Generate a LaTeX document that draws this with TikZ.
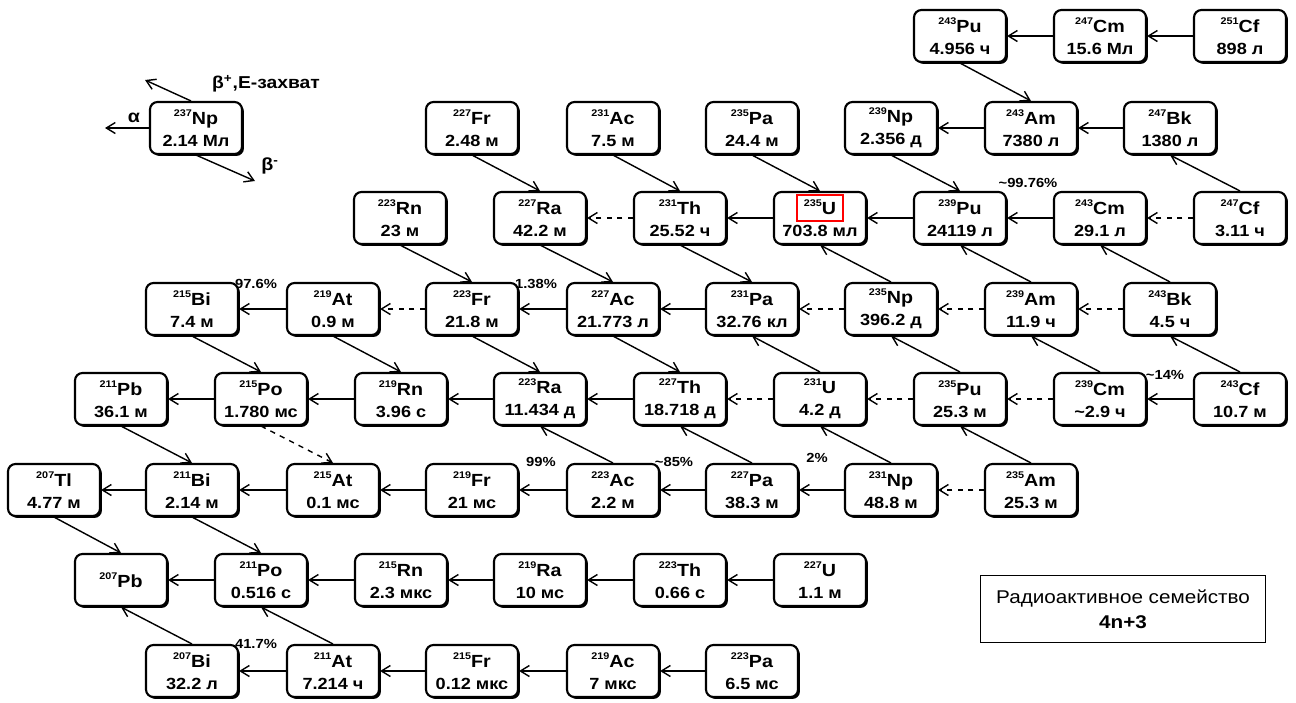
\documentclass[tikz,border=0pt]{standalone}
\usepackage{fontspec}
\setmainfont{Liberation Sans}[FakeStretch=1.12]
\usetikzlibrary{arrows.meta,shadows}
\newcommand{\iso}[3]{\raisebox{0.9ex}{\fontsize{5.5}{6}\selectfont #1}#2\\{\fontsize{9.2}{12.5}\selectfont #3}}

\begin{document}
\begin{tikzpicture}[x=0.2mm, y=-0.2mm, font=\bfseries\fontsize{10}{12.5}\selectfont,
		nuc/.style={draw, very thick, rounded corners=1.5mm, fill=white, minimum width=18.4mm, minimum height=10.4mm, align=center, inner sep=0pt, drop shadow={shadow xshift=1.1pt, shadow yshift=-1.1pt, opacity=1, fill=black}},
		dec/.style={thick, -{Straight Barb[length=1.8mm,width=2.2mm]}},
		pct/.style={font=\bfseries\fontsize{7.5}{8}\selectfont, inner sep=0pt}]
			\useasboundingbox (0,0) rectangle (1296,702);
			% row 0
			\node[nuc] (Pu243) at (960,36) {\iso{243}{Pu}{4.956 ч}};
			\node[nuc] (Cm247) at (1100,36) {\iso{247}{Cm}{15.6 Мл}};
			\node[nuc] (Cf251) at (1240,36) {\iso{251}{Cf}{898 л}};
			% row 1
			\node[nuc] (Fr227) at (472,128) {\iso{227}{Fr}{2.48 м}};
			\node[nuc] (Ac231) at (613,128) {\iso{231}{Ac}{7.5 м}};
			\node[nuc] (Pa235) at (752,128) {\iso{235}{Pa}{24.4 м}};
			\node[nuc] (Np239) at (891,128) {\iso{239}{Np}{2.356 д}};
			\node[nuc] (Am243) at (1031,128) {\iso{243}{Am}{7380 л}};
			\node[nuc] (Bk247) at (1170,128) {\iso{247}{Bk}{1380 л}};
			% row 2
			\node[nuc] (Rn223) at (400,218) {\iso{223}{Rn}{23 м}};
			\node[nuc] (Ra227) at (540,218) {\iso{227}{Ra}{42.2 м}};
			\node[nuc] (Th231) at (680,218) {\iso{231}{Th}{25.52 ч}};
			\node[nuc] (U235) at (820,218) {\iso{235}{U}{703.8 мл}};
			\node[nuc] (Pu239) at (960,218) {\iso{239}{Pu}{24119 л}};
			\node[nuc] (Cm243) at (1100,218) {\iso{243}{Cm}{29.1 л}};
			\node[nuc] (Cf247) at (1240,218) {\iso{247}{Cf}{3.11 ч}};
			% row 3
			\node[nuc] (Bi215) at (192,309) {\iso{215}{Bi}{7.4 м}};
			\node[nuc] (At219) at (333,309) {\iso{219}{At}{0.9 м}};
			\node[nuc] (Fr223) at (472,309) {\iso{223}{Fr}{21.8 м}};
			\node[nuc] (Ac227) at (613,309) {\iso{227}{Ac}{21.773 л}};
			\node[nuc] (Pa231) at (752,309) {\iso{231}{Pa}{32.76 кл}};
			\node[nuc] (Np235) at (891,309) {\iso{235}{Np}{396.2 д}};
			\node[nuc] (Am239) at (1031,309) {\iso{239}{Am}{11.9 ч}};
			\node[nuc] (Bk243) at (1170,309) {\iso{243}{Bk}{4.5 ч}};
			% row 4
			\node[nuc] (Pb211) at (121,399) {\iso{211}{Pb}{36.1 м}};
			\node[nuc] (Po215) at (261,399) {\iso{215}{Po}{1.780 мс}};
			\node[nuc] (Rn219) at (401,399) {\iso{219}{Rn}{3.96 с}};
			\node[nuc] (Ra223) at (540,399) {\iso{223}{Ra}{11.434 д}};
			\node[nuc] (Th227) at (680,399) {\iso{227}{Th}{18.718 д}};
			\node[nuc] (U231) at (820,399) {\iso{231}{U}{4.2 д}};
			\node[nuc] (Pu235) at (960,399) {\iso{235}{Pu}{25.3 м}};
			\node[nuc] (Cm239) at (1100,399) {\iso{239}{Cm}{\textasciitilde2.9 ч}};
			\node[nuc] (Cf243) at (1240,399) {\iso{243}{Cf}{10.7 м}};
			% row 5
			\node[nuc] (Tl207) at (54,490) {\iso{207}{Tl}{4.77 м}};
			\node[nuc] (Bi211) at (192,490) {\iso{211}{Bi}{2.14 м}};
			\node[nuc] (At215) at (333,490) {\iso{215}{At}{0.1 мс}};
			\node[nuc] (Fr219) at (472,490) {\iso{219}{Fr}{21 мс}};
			\node[nuc] (Ac223) at (613,490) {\iso{223}{Ac}{2.2 м}};
			\node[nuc] (Pa227) at (752,490) {\iso{227}{Pa}{38.3 м}};
			\node[nuc] (Np231) at (891,490) {\iso{231}{Np}{48.8 м}};
			\node[nuc] (Am235) at (1031,490) {\iso{235}{Am}{25.3 м}};
			% row 6
			\node[nuc] (Pb207) at (121,580) {\raisebox{0.9ex}{\fontsize{5.5}{6}\selectfont 207}Pb};
			\node[nuc] (Po211) at (261,580) {\iso{211}{Po}{0.516 с}};
			\node[nuc] (Rn215) at (401,580) {\iso{215}{Rn}{2.3 мкс}};
			\node[nuc] (Ra219) at (540,580) {\iso{219}{Ra}{10 мс}};
			\node[nuc] (Th223) at (680,580) {\iso{223}{Th}{0.66 с}};
			\node[nuc] (U227) at (820,580) {\iso{227}{U}{1.1 м}};
			% row 7
			\node[nuc] (Bi207) at (192,671) {\iso{207}{Bi}{32.2 л}};
			\node[nuc] (At211) at (333,671) {\iso{211}{At}{7.214 ч}};
			\node[nuc] (Fr215) at (472,671) {\iso{215}{Fr}{0.12 мкс}};
			\node[nuc] (Ac219) at (613,671) {\iso{219}{Ac}{7 мкс}};
			\node[nuc] (Pa223) at (752,671) {\iso{223}{Pa}{6.5 мс}};

			% alpha
			\draw[dec] (Cm247.west) -- (Pu243.east);
			\draw[dec] (Cf251.west) -- (Cm247.east);
			\draw[dec] (Am243.west) -- (Np239.east);
			\draw[dec] (Bk247.west) -- (Am243.east);
			\draw[dec, dashed] (Th231.west) -- (Ra227.east);
			\draw[dec] (U235.west) -- (Th231.east);
			\draw[dec] (Pu239.west) -- (U235.east);
			\draw[dec] (Cm243.west) -- (Pu239.east);
			\draw[dec, dashed] (Cf247.west) -- (Cm243.east);
			\draw[dec] (At219.west) -- (Bi215.east);
			\draw[dec, dashed] (Fr223.west) -- (At219.east);
			\draw[dec] (Ac227.west) -- (Fr223.east);
			\draw[dec] (Pa231.west) -- (Ac227.east);
			\draw[dec, dashed] (Np235.west) -- (Pa231.east);
			\draw[dec, dashed] (Am239.west) -- (Np235.east);
			\draw[dec, dashed] (Bk243.west) -- (Am239.east);
			\draw[dec] (Po215.west) -- (Pb211.east);
			\draw[dec] (Rn219.west) -- (Po215.east);
			\draw[dec] (Ra223.west) -- (Rn219.east);
			\draw[dec] (Th227.west) -- (Ra223.east);
			\draw[dec, dashed] (U231.west) -- (Th227.east);
			\draw[dec, dashed] (Pu235.west) -- (U231.east);
			\draw[dec, dashed] (Cm239.west) -- (Pu235.east);
			\draw[dec] (Cf243.west) -- (Cm239.east);
			\draw[dec] (Bi211.west) -- (Tl207.east);
			\draw[dec] (At215.west) -- (Bi211.east);
			\draw[dec] (Fr219.west) -- (At215.east);
			\draw[dec] (Ac223.west) -- (Fr219.east);
			\draw[dec] (Pa227.west) -- (Ac223.east);
			\draw[dec] (Np231.west) -- (Pa227.east);
			\draw[dec, dashed] (Am235.west) -- (Np231.east);
			\draw[dec] (Po211.west) -- (Pb207.east);
			\draw[dec] (Rn215.west) -- (Po211.east);
			\draw[dec] (Ra219.west) -- (Rn215.east);
			\draw[dec] (Th223.west) -- (Ra219.east);
			\draw[dec] (U227.west) -- (Th223.east);
			\draw[dec] (At211.west) -- (Bi207.east);
			\draw[dec] (Fr215.west) -- (At211.east);
			\draw[dec] (Ac219.west) -- (Fr215.east);
			\draw[dec] (Pa223.west) -- (Ac219.east);

			% beta minus
			\draw[dec] (Pu243.south) -- (Am243.north);
			\draw[dec] (Fr227.south) -- (Ra227.north);
			\draw[dec] (Ac231.south) -- (Th231.north);
			\draw[dec] (Pa235.south) -- (U235.north);
			\draw[dec] (Np239.south) -- (Pu239.north);
			\draw[dec] (Rn223.south) -- (Fr223.north);
			\draw[dec] (Ra227.south) -- (Ac227.north);
			\draw[dec] (Th231.south) -- (Pa231.north);
			\draw[dec] (Bi215.south) -- (Po215.north);
			\draw[dec] (At219.south) -- (Rn219.north);
			\draw[dec] (Fr223.south) -- (Ra223.north);
			\draw[dec] (Ac227.south) -- (Th227.north);
			\draw[dec] (Pb211.south) -- (Bi211.north);
			\draw[dec, dashed] (Po215.south) -- (At215.north);
			\draw[dec] (Tl207.south) -- (Pb207.north);
			\draw[dec] (Bi211.south) -- (Po211.north);

			% beta plus, E-capture
			\draw[dec] (Cf247.north) -- (Bk247.south);
			\draw[dec] (Np235.north) -- (U235.south);
			\draw[dec] (Am239.north) -- (Pu239.south);
			\draw[dec] (Bk243.north) -- (Cm243.south);
			\draw[dec] (U231.north) -- (Pa231.south);
			\draw[dec] (Pu235.north) -- (Np235.south);
			\draw[dec] (Cm239.north) -- (Am239.south);
			\draw[dec] (Cf243.north) -- (Bk243.south);
			\draw[dec] (Ac223.north) -- (Ra223.south);
			\draw[dec] (Pa227.north) -- (Th227.south);
			\draw[dec] (Np231.north) -- (U231.south);
			\draw[dec] (Am235.north) -- (Pu235.south);
			\draw[dec] (Bi207.north) -- (Pb207.south);
			\draw[dec] (At211.north) -- (Po211.south);

			% branching
			\node[pct] (p9976) at (1028,183) {\textasciitilde99.76\%};
			\node[pct] (p976) at (256,284) {97.6\%};
			\node[pct] (p138) at (536,284) {1.38\%};
			\node[pct] (p14) at (1165,375) {\textasciitilde14\%};
			\node[pct] (p99) at (541,462) {99\%};
			\node[pct] (p85) at (674,462) {\textasciitilde85\%};
			\node[pct] (p2) at (817,458) {2\%};
			\node[pct] (p417) at (256,644) {41.7\%};

			\draw[red, thick] ([shift={(-23,-23)}]U235.center) rectangle ([shift={(23,3)}]U235.center);

			% key
			\node[nuc] (NpKey) at (196,128) {\iso{237}{Np}{2.14 Мл}};
			\coordinate (ka) at (105,128);
			\coordinate (kp) at (145,80);
			\coordinate (km) at (255,181);
			\draw[dec] (NpKey.west) -- (ka);
			\draw[dec] ([xshift=-1mm]NpKey.north) -- (kp);
			\draw[dec] (NpKey.south) -- (km);
			\node (lalpha) at (134,118) {α};
			\node[font=\bfseries\fontsize{9.8}{12}\selectfont] (lbplus) at (266,84) {β\textsuperscript{+},E-захват};
			\node (lbminus) at (270,166) {β\textsuperscript{-}};

			\node[draw, thick, minimum width=57mm, minimum height=13.4mm, align=center, font=\fontsize{10.5}{14}\selectfont] (family) at (1123,609) {Радиоактивное семейство\\ \textbf{4n+3}};
		\end{tikzpicture}
\end{document}
